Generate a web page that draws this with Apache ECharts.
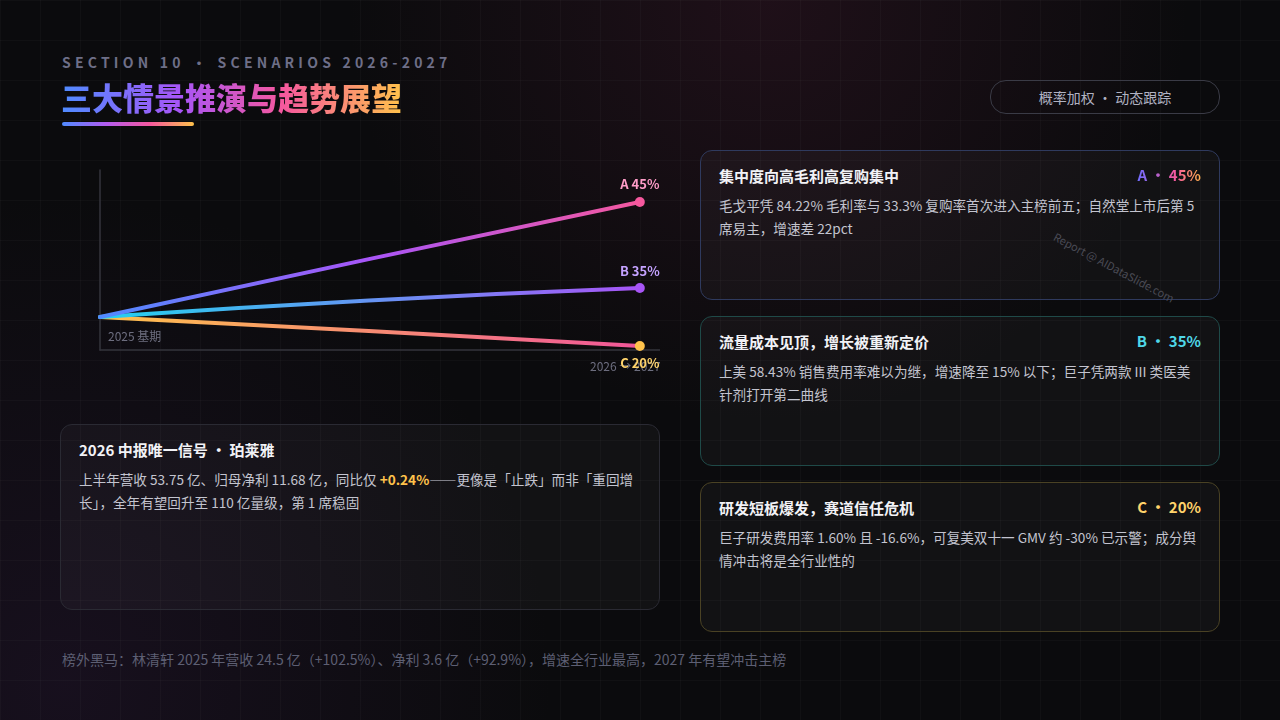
<!DOCTYPE html>
<html lang="zh-CN">
<head>
<meta charset="utf-8">
<script src="https://cdn.jsdelivr.net/npm/echarts@6/dist/echarts.min.js"></script>
<style>
body{margin:0;width:1280px;height:720px;overflow:hidden;background:#0b0b0d;font-family:"Noto Sans CJK SC","Noto Sans",sans-serif;position:relative;
background-image:linear-gradient(rgba(255,255,255,0.025) 1px,transparent 1px),linear-gradient(90deg,rgba(255,255,255,0.025) 1px,transparent 1px),radial-gradient(circle at 60% 0%,rgba(90,30,60,0.25),transparent 40%),radial-gradient(circle at 5% 95%,rgba(60,30,80,0.25),transparent 35%);
background-size:40px 40px,40px 40px,100% 100%,100% 100%}
.abs{position:absolute}
.sec{left:62px;top:52px;font-size:14px;letter-spacing:4.2px;color:#6e6f88;font-weight:700}
.ttl{left:61px;top:74px;font-size:31px;font-weight:900;background:linear-gradient(90deg,#4f8bff,#a855f7 35%,#f6589e 65%,#ffc24b);-webkit-background-clip:text;color:transparent}
.bar{left:62px;top:122px;width:132px;height:4px;border-radius:2px;background:linear-gradient(90deg,#4f8bff,#b25cf0,#f6589e,#ffc24b)}
.pill{left:990px;top:80px;width:228px;height:32px;border:1px solid #3a3b46;border-radius:16px;color:#b0b2c2;font-size:14px;text-align:center;line-height:32px}
.card{border-radius:12px;box-sizing:border-box;padding:14px 18px;background:rgba(255,255,255,0.03)}
.card h3{margin:0;color:#f2f2f6;font-size:15px;font-weight:700}
.card p{margin:8px 0 0;color:#c3c4cf;font-size:13.6px;line-height:23px}
.tag{position:absolute;right:18px;top:13px;font-size:15px;font-weight:700}
.foot{left:62px;top:649px;color:#5d5f73;font-size:14px}
</style>
</head>
<body>
<div class="abs sec">SECTION 10 · SCENARIOS 2026-2027</div>
<div class="abs ttl">三大情景推演与趋势展望</div>
<div class="abs bar"></div>
<div class="abs pill">概率加权 · 动态跟踪</div>
<div id="chart" class="abs" style="left:0;top:0;width:660px;height:400px"></div>

<div class="abs card" style="left:60px;top:424px;width:600px;height:186px;border:1px solid #2a2a33">
<h3>2026 中报唯一信号 · 珀莱雅</h3>
<p>上半年营收 53.75 亿、归母净利 11.68 亿，同比仅 <b style="color:#ffc24b">+0.24%</b>——更像是「止跌」而非「重回增长」，全年有望回升至 110 亿量级，第 1 席稳固</p>
</div>
<div class="abs card" style="left:700px;top:150px;width:520px;height:150px;border:1px solid #2f3a5e">
<h3>集中度向高毛利高复购集中</h3>
<span class="tag" style="background:linear-gradient(90deg,#6d6cff,#f6589e 60%,#ffb04b);-webkit-background-clip:text;color:transparent">A • 45%</span>
<p>毛戈平凭 84.22% 毛利率与 33.3% 复购率首次进入主榜前五；自然堂上市后第 5 席易主，增速差 22pct</p>
<div class="abs" style="left:346px;top:108px;transform:rotate(28deg);color:#4a4b55;font-size:11px">Report @ AIDataSlide.com</div>
</div>
<div class="abs card" style="left:700px;top:316px;width:520px;height:150px;border:1px solid #1f4a48">
<h3>流量成本见顶，增长被重新定价</h3>
<span class="tag" style="color:#4fd8e8">B • 35%</span>
<p>上美 58.43% 销售费用率难以为继，增速降至 15% 以下；巨子凭两款 III 类医美针剂打开第二曲线</p>
</div>
<div class="abs card" style="left:700px;top:482px;width:520px;height:150px;border:1px solid #4a4224">
<h3>研发短板爆发，赛道信任危机</h3>
<span class="tag" style="color:#ffd36b">C • 20%</span>
<p>巨子研发费用率 1.60% 且 -16.6%，可复美双十一 GMV 约 -30% 已示警；成分舆情冲击将是全行业性的</p>
</div>
<div class="abs foot">榜外黑马：林清轩 2025 年营收 24.5 亿（+102.5%）、净利 3.6 亿（+92.9%），增速全行业最高，2027 年有望冲击主榜</div>

<script>
var xPts = [0, 48, 96.4];
var scenarioA = [18.3, 50.5, 82.2];
var scenarioB = [18.3, 27.5, 34.4];
var scenarioC = [18.3, 10.5, 2.2];
var endLabels = ['A 45%', 'B 35%', 'C 20%'];

function pts(ys) { return ys.map(function (y, i) { return [xPts[i], y]; }); }
function grad(c) {
  return new echarts.graphic.LinearGradient(0, 0, 1, 0, c.map(function (col, i) {
    return { offset: i / (c.length - 1), color: col };
  }));
}
function series(name, ys, colors, dot, labelColor, pos, smooth) {
  var d = pts(ys);
  return {
    name: name, type: 'line', smooth: smooth, data: d.map(function (p, i) {
      if (i < d.length - 1) return { value: p, symbolSize: 0 };
      return { value: p, symbolSize: 10, itemStyle: { color: dot },
        label: { show: true, position: pos, formatter: name, color: labelColor, fontSize: 13, fontWeight: 'bold', distance: 6 } };
    }),
    symbol: 'circle', lineStyle: { width: 4, color: grad(colors), cap: 'round' },
    itemStyle: { color: dot }
  };
}
var chart = echarts.init(document.getElementById('chart'));
chart.setOption({
  animation: false,
  textStyle: { fontFamily: '"Noto Sans CJK SC", "Noto Sans", sans-serif' },
  grid: { left: 100, top: 170, width: 560, height: 180 },
  xAxis: { type: 'value', min: 0, max: 100, axisLine: { show: true, lineStyle: { color: '#34343c', width: 1.5 } },
    axisTick: { show: false }, axisLabel: { show: false }, splitLine: { show: false } },
  yAxis: { type: 'value', min: 0, max: 100, axisLine: { show: true, lineStyle: { color: '#34343c', width: 1.5 } },
    axisTick: { show: false }, axisLabel: { show: false }, splitLine: { show: false } },
  graphic: [
    { type: 'text', left: 108, top: 330, style: { text: '2025 基期', fill: '#6e6f80', fontSize: 12, fontFamily: '"Noto Sans CJK SC"' } },
    { type: 'text', left: 590, top: 360, z: -1, style: { text: '2026 → 2027', fill: '#6e6f80', fontSize: 12, fontFamily: '"Noto Sans CJK SC"' } }
  ],
  series: [
    series(endLabels[2], scenarioC, ['#ffc24b', '#f0569a'], '#ffc24b', '#ffd36b', 'bottom', false),
    series(endLabels[1], scenarioB, ['#22d3ee', '#a855f7'], '#a855f7', '#c4a2ff', 'top', true),
    series(endLabels[0], scenarioA, ['#4f8bff', '#a855f7', '#f6589e'], '#f6589e', '#ff9cc8', 'top', false)
  ]
});
</script>
</body>
</html>
